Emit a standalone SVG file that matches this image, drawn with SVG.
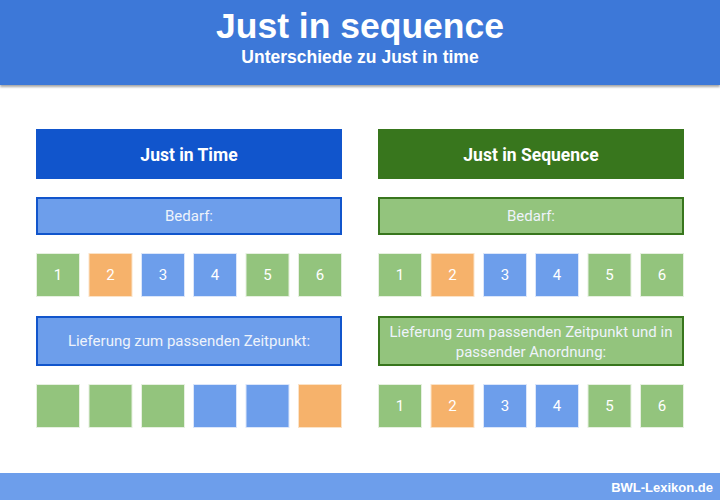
<svg xmlns="http://www.w3.org/2000/svg" width="720" height="500" viewBox="0 0 720 500">
<defs>
<style>
.hdr{font-family:"Liberation Sans",Arial,sans-serif;font-weight:bold;fill:#fff;text-anchor:middle}
.ttl{font-family:Roboto,"Noto Sans",sans-serif;font-weight:bold;font-size:17.5px;fill:#fff;text-anchor:middle}
.lbl{font-family:Roboto,"Noto Sans",sans-serif;font-size:15px;fill:#eef3fb;text-anchor:middle}
.num{font-family:Roboto,"Noto Sans",sans-serif;font-size:15px;fill:#fff;text-anchor:middle}
.g{fill:#93c47d;stroke:#e6f0e0;stroke-width:1}
.o{fill:#f6b26b;stroke:#fbe3c8;stroke-width:1}
.b{fill:#6d9eeb;stroke:#dbe6fa;stroke-width:1}
</style>
<filter id="sh" x="-5%" y="-5%" width="110%" height="120%"><feDropShadow dx="0" dy="2" stdDeviation="1.2" flood-color="#000" flood-opacity="0.35"/></filter>
</defs>
<rect width="720" height="500" fill="#fff"/>
<g id="header">
<rect x="0" y="0" width="720" height="85" fill="#3c78d8" filter="url(#sh)"/>
<text class="hdr" x="360" y="38" font-size="35.5">Just in sequence</text>
<text class="hdr" x="360" y="63" font-size="17.5">Unterschiede zu Just in time</text>
</g>
<g id="jit-title"><rect x="36" y="129" width="306" height="50" fill="#1155cc"/><text class="ttl" x="189" y="161">Just in Time</text></g>
<g id="jis-title"><rect x="378" y="129" width="306" height="50" fill="#38761d"/><text class="ttl" x="531" y="161">Just in Sequence</text></g>
<g id="jit-bedarf"><rect x="37" y="198" width="304" height="36" fill="#6d9eeb" stroke="#1155cc" stroke-width="2"/><text class="lbl" x="189" y="221">Bedarf:</text></g>
<g id="jis-bedarf"><rect x="379" y="198" width="304" height="36" fill="#93c47d" stroke="#38761d" stroke-width="2"/><text class="lbl" x="531" y="221">Bedarf:</text></g>
<g id="jit-bedarf-items">
<rect class="g" x="36.5" y="253.5" width="43" height="43"/><text class="num" x="58" y="280">1</text>
<rect class="o" x="89" y="253.5" width="43" height="43"/><text class="num" x="110.5" y="280">2</text>
<rect class="b" x="141.5" y="253.5" width="43" height="43"/><text class="num" x="163" y="280">3</text>
<rect class="b" x="193.5" y="253.5" width="43" height="43"/><text class="num" x="215" y="280">4</text>
<rect class="g" x="246" y="253.5" width="43" height="43"/><text class="num" x="267.5" y="280">5</text>
<rect class="g" x="298.5" y="253.5" width="43" height="43"/><text class="num" x="320" y="280">6</text>
</g>
<g id="jis-bedarf-items">
<rect class="g" x="378.5" y="253.5" width="43" height="43"/><text class="num" x="400" y="280">1</text>
<rect class="o" x="431" y="253.5" width="43" height="43"/><text class="num" x="452.5" y="280">2</text>
<rect class="b" x="483.5" y="253.5" width="43" height="43"/><text class="num" x="505" y="280">3</text>
<rect class="b" x="535.5" y="253.5" width="43" height="43"/><text class="num" x="557" y="280">4</text>
<rect class="g" x="588" y="253.5" width="43" height="43"/><text class="num" x="609.5" y="280">5</text>
<rect class="g" x="640.5" y="253.5" width="43" height="43"/><text class="num" x="662" y="280">6</text>
</g>
<g id="jit-lieferung"><rect x="37" y="317" width="304" height="48" fill="#6d9eeb" stroke="#1155cc" stroke-width="2"/><text class="lbl" x="189" y="346">Lieferung zum passenden Zeitpunkt:</text></g>
<g id="jis-lieferung"><rect x="379" y="317" width="304" height="48" fill="#93c47d" stroke="#38761d" stroke-width="2"/><text class="lbl" x="531" y="337">Lieferung zum passenden Zeitpunkt und in</text><text class="lbl" x="531" y="357">passender Anordnung:</text></g>
<g id="jit-lieferung-items">
<rect class="g" x="36.5" y="384.5" width="43" height="43"/>
<rect class="g" x="89" y="384.5" width="43" height="43"/>
<rect class="g" x="141.5" y="384.5" width="43" height="43"/>
<rect class="b" x="193.5" y="384.5" width="43" height="43"/>
<rect class="b" x="246" y="384.5" width="43" height="43"/>
<rect class="o" x="298.5" y="384.5" width="43" height="43"/>
</g>
<g id="jis-lieferung-items">
<rect class="g" x="378.5" y="384.5" width="43" height="43"/><text class="num" x="400" y="411">1</text>
<rect class="o" x="431" y="384.5" width="43" height="43"/><text class="num" x="452.5" y="411">2</text>
<rect class="b" x="483.5" y="384.5" width="43" height="43"/><text class="num" x="505" y="411">3</text>
<rect class="b" x="535.5" y="384.5" width="43" height="43"/><text class="num" x="557" y="411">4</text>
<rect class="g" x="588" y="384.5" width="43" height="43"/><text class="num" x="609.5" y="411">5</text>
<rect class="g" x="640.5" y="384.5" width="43" height="43"/><text class="num" x="662" y="411">6</text>
</g>
<g id="connectors"/>
<g id="footer">
<rect x="0" y="473" width="720" height="27" fill="#6d9eeb"/>
<text x="713" y="492" font-family="'Liberation Sans',Arial,sans-serif" font-weight="bold" font-size="13" fill="#fff" text-anchor="end">BWL-Lexikon.de</text>
</g>
</svg>
